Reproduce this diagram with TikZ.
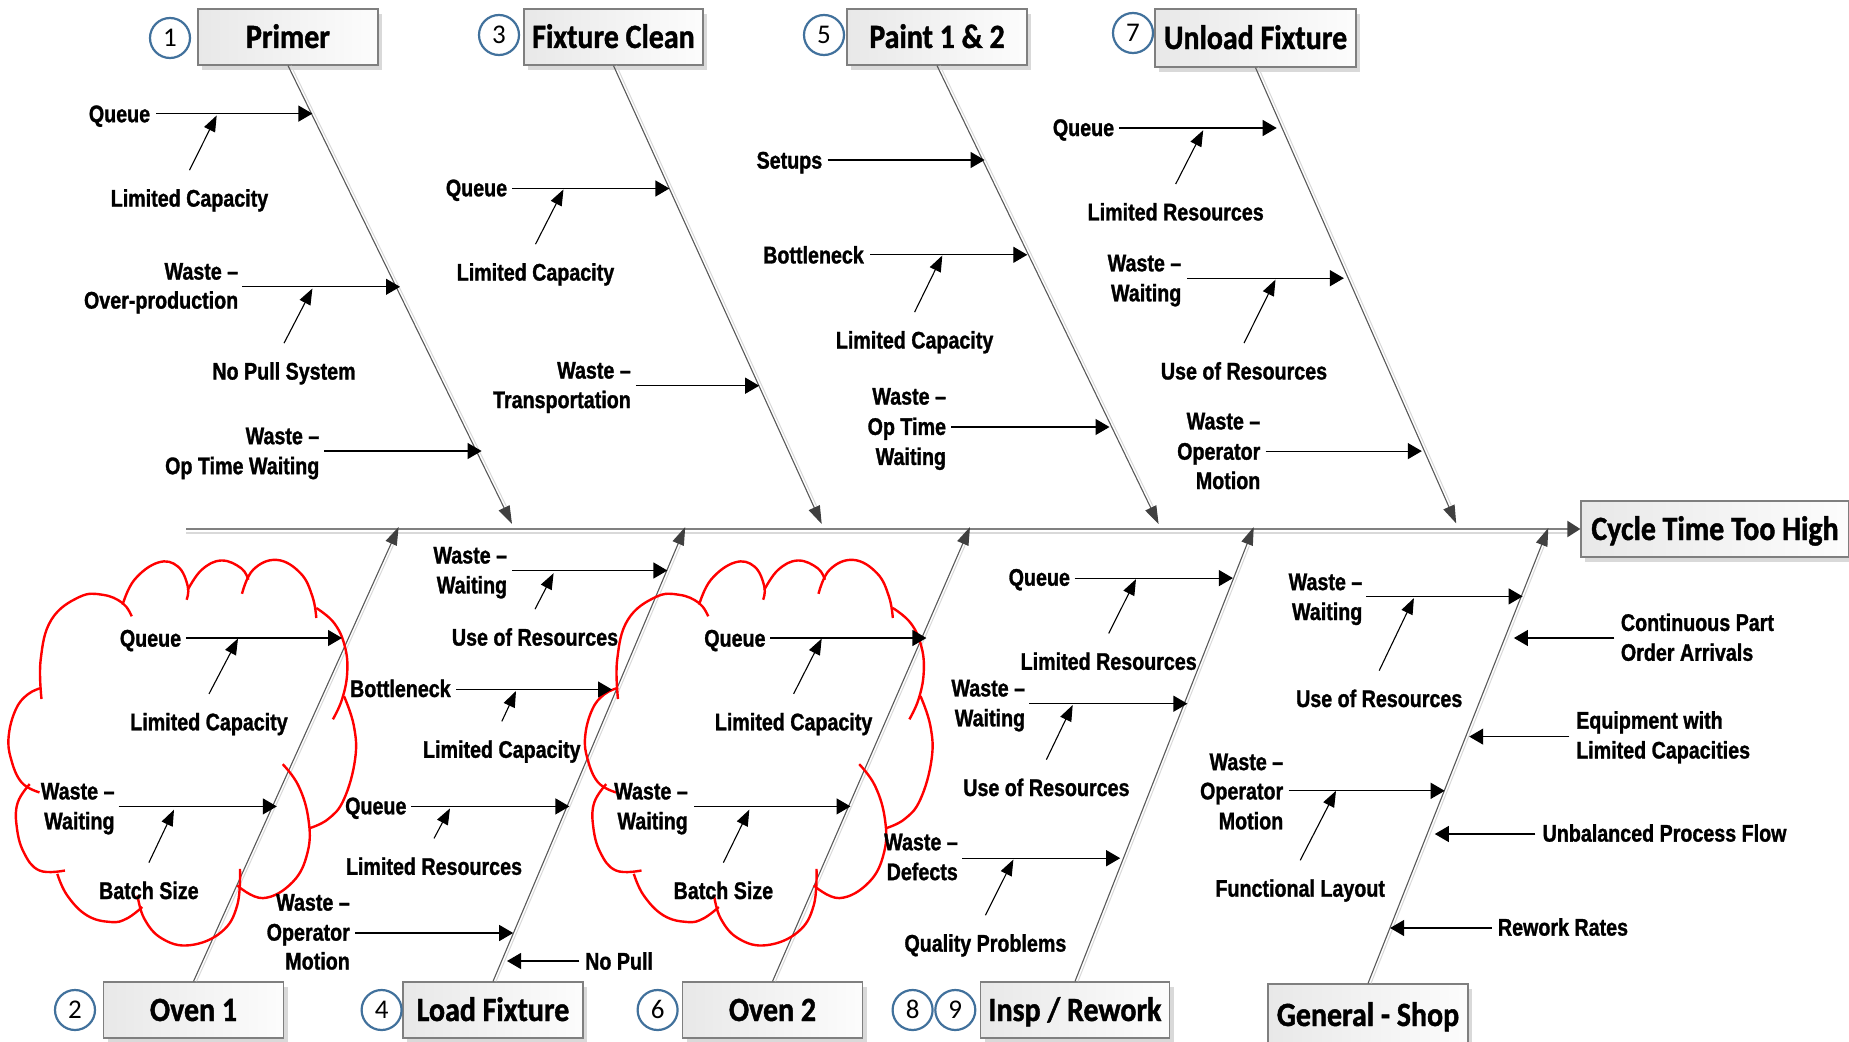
\documentclass[tikz,border=0pt]{standalone}
\usepackage{fontspec}
\newfontfamily\labfam{Liberation Sans}[FakeStretch=0.82,FakeBold=1.2]
\newfontfamily\titfam{Carlito}[FakeStretch=0.88,FakeBold=1.2]
\newfontfamily\numfam{Carlito}
\usetikzlibrary{arrows.meta,shadows}
\definecolor{circblue}{RGB}{65,113,156}
\definecolor{boxgray}{RGB}{127,127,127}
\definecolor{bonegray}{RGB}{89,89,89}
\definecolor{tipgray}{RGB}{64,64,64}
\definecolor{spinegray}{RGB}{128,128,128}
\definecolor{shadowgray}{RGB}{217,217,217}
\tikzset{
 lab/.style={font=\labfam\bfseries\fontsize{24}{28}\selectfont, inner sep=0pt, text height=17.2pt, text depth=0pt},
 tbox/.style={draw=boxgray, line width=1.3pt, left color=black!9, right color=black!1, minimum height=56pt, inner sep=0pt,
   font=\titfam\bfseries\fontsize{34}{40}\selectfont, text height=22pt, text depth=0pt,
   drop shadow={shadow xshift=4pt, shadow yshift=-5pt, fill=shadowgray, opacity=1}},
 num/.style={circle, draw=circblue, line width=2.2pt, fill=white, minimum size=40pt, inner sep=0pt,
   font=\numfam\fontsize{27}{30}\selectfont, text height=17pt, text depth=0pt},
 br/.style={draw=black, line width=1.2pt, -{Triangle[length=14pt,width=16pt]}},
 sub/.style={draw=black, line width=1.1pt, -{Triangle[length=16pt,width=12pt]}},
 bone/.style={draw=bonegray, line width=1.1pt, -{Triangle[length=18pt,width=12pt,color=tipgray]}},
 boneshadow/.style={draw=black!15, line width=1pt, shorten >=20pt},
 cloudline/.style={draw=red, line width=2.4pt},
}
\newcommand{\mycloud}[1]{%
\begin{scope}[xshift=#1]
\draw[cloudline] plot[smooth,tension=0.7] coordinates {(41.5,699) (40.7,659.5) (51.4,619.7) (79.1,597.1) (102.8,594.8) (122.6,603.1) (131.7,616.3)};
\draw[cloudline] plot[smooth,tension=0.7] coordinates {(122.6,604.7) (134.4,579.8) (158.2,562.5) (177.9,566.5) (187.8,586.4) (186.6,599.7)};
\draw[cloudline] plot[smooth,tension=0.7] coordinates {(187.8,589.8) (201.7,569.8) (221.4,560.5) (241.2,568.2) (248.3,579.8)};
\draw[cloudline] plot[smooth,tension=0.7] coordinates {(242,593.8) (253.1,569.8) (276.8,559.9) (300.5,573.2) (312.4,596.4) (316.3,618)};
\draw[cloudline] plot[smooth,tension=0.7] coordinates {(316.3,608) (334.1,623) (344.8,646.2) (347.2,672.8) (342,699.4) (332.9,719.3)};
\draw[cloudline] plot[smooth,tension=0.7] coordinates {(344,696.1) (353.9,726) (355.1,759.2) (344,799.1) (328.2,819) (309.2,828.3)};
\draw[cloudline] plot[smooth,tension=0.7] coordinates {(282.7,764.2) (298.5,785.8) (308.4,819) (307.6,852.2) (292.6,882.1) (263,898.1) (237.2,885.4)};
\draw[cloudline] plot[smooth,tension=0.7] coordinates {(240,868.8) (237.2,905.4) (221.4,932) (189.8,945.2) (162.1,938.6) (144.3,918.7) (137.6,895.4)};
\draw[cloudline] plot[smooth,tension=0.7] coordinates {(142.3,907) (126.5,918.7) (110.7,922) (87,915.4) (67.2,895.4) (57.3,873.8)};
\draw[cloudline] plot[smooth,tension=0.7] coordinates {(29.7,784.1) (17.8,802.4) (16.6,825.6) (23.7,852.2) (39.5,870.5) (65,870.5)};
\draw[cloudline] plot[smooth,tension=0.7] coordinates {(39.5,792.4) (21.7,782.5) (11.1,759.2) (8.7,736) (15.8,709.4) (27.7,694.4) (41.5,687.8)};
\end{scope}}
\begin{document}
\begin{tikzpicture}[x=1pt,y=-1pt]
\useasboundingbox (0,0) rectangle (1849,1041);
\fill[white] (0,0) rectangle (1849,1041);

% ---------- boxes ----------
\node[tbox, minimum width=180pt] (primer) at (288,37) {Primer};
\node[tbox, minimum width=179pt] (fclean) at (613.5,37) {Fixture Clean};
\node[tbox, minimum width=180pt] (paint) at (937,37) {Paint 1 \& 2};
\node[tbox, minimum width=201pt, minimum height=58pt] (unload) at (1255.5,38) {Unload Fixture};
\node[tbox, minimum width=268pt] (cycle) at (1715,529) {Cycle Time Too High};
\node[tbox, minimum width=180pt] (oven1) at (193.5,1010) {Oven 1};
\node[tbox, minimum width=180pt] (loadf) at (493,1010) {Load Fixture};
\node[tbox, minimum width=180pt] (oven2) at (772.5,1010) {Oven 2};
\node[tbox, minimum width=189pt] (insp) at (1075,1010) {Insp / Rework};
\node[tbox, minimum width=200pt, minimum height=62pt] (gshop) at (1368,1015) {General - Shop};

\node[num] (n1) at (170,38) {1};
\node[num] (n3) at (499,35) {3};
\node[num] (n5) at (824,35) {5};
\node[num] (n7) at (1133,33) {7};
\node[num] (n2) at (75,1010) {2};
\node[num] (n4) at (381.6,1010) {4};
\node[num] (n6) at (657.6,1010) {6};
\node[num] (n8) at (912.6,1010) {8};
\node[num] (n9) at (955.3,1010) {9};

% ---------- spine ----------
\coordinate (sp0) at (186,529);
\coordinate (sps0) at (186,533);
\coordinate (sps1) at (1570,533);
\draw[shadowgray, line width=2pt] (sps0) -- (sps1);
\draw[draw=spinegray, line width=2.2pt, -{Triangle[length=13pt,width=16pt,color=tipgray]}] (sp0) -- (cycle.west);

% ---------- bones ----------
\coordinate (tP) at (512,524);
\coordinate (tF) at (821.7,524);
\coordinate (tA) at (1158.6,524);
\coordinate (tU) at (1456.2,523.4);
\coordinate (tO1) at (398.6,527);
\coordinate (tL) at (685.2,527);
\coordinate (tO2) at (970,527);
\coordinate (tI) at (1253.7,527);
\coordinate (tG) at (1548.3,528);
\foreach \b/\t in {primer.south/tP, fclean.south/tF, paint.south/tA, unload.south/tU,
                   oven1.north/tO1, loadf.north/tL, oven2.north/tO2, insp.north/tI, gshop.north/tG}{
  \draw[boneshadow] ([xshift=3pt]\b) -- ([xshift=3pt]\t);
  \draw[bone] (\b) -- (\t);
}

% ---------- clouds ----------
\mycloud{0pt}
\mycloud{576.5pt}

% ---------- Primer branch ----------
\node[lab] (pq) at (119.5,113.6) {Queue};
\coordinate (pqs) at (156,113.6); \coordinate (pqt) at (312.4,113.6);
\draw[br] (pqs) -- (pqt);
\node[lab] (plc) at (189.5,198) {Limited Capacity};
\coordinate (plct) at (216.7,115.4);
\draw[sub] ([yshift=19pt]plc.north) -- (plct);
\node[lab, anchor=east] (pwa) at (238.4,271) {Waste –};
\node[lab, anchor=east] (pwb) at (238.4,300) {Over-production};
\coordinate (pws) at (242,286.8); \coordinate (pwt) at (400,286.8);
\draw[br] (pws) -- (pwt);
\node[lab] (pnp) at (284,371) {No Pull System};
\coordinate (pnpt) at (312.4,288.5);
\draw[sub] ([yshift=19pt]pnp.north) -- (pnpt);
\node[lab, anchor=east] (poa) at (319.5,435.6) {Waste –};
\node[lab, anchor=east] (pob) at (319.5,465.6) {Op Time Waiting};
\coordinate (pos) at (324,451); \coordinate (pot) at (481.6,451);
\draw[br] (pos) -- (pot);

% ---------- Fixture Clean branch ----------
\node[lab] (fq) at (476.5,187.7) {Queue};
\coordinate (fqs) at (512,188.5); \coordinate (fqt) at (669.4,188.5);
\draw[br] (fqs) -- (fqt);
\node[lab] (flc) at (535.5,272) {Limited Capacity};
\coordinate (flct) at (563.5,189.4);
\draw[sub] ([yshift=19pt]flc.north) -- (flct);
\node[lab, anchor=east] (fta) at (631,370) {Waste –};
\node[lab, anchor=east] (ftb) at (631,399.5) {Transportation};
\coordinate (fts) at (635.8,385.7); \coordinate (ftt) at (759.2,385.7);
\draw[br] (fts) -- (ftt);

% ---------- Paint branch ----------
\node[lab] (as) at (789.4,160) {Setups};
\coordinate (ass) at (827.6,160); \coordinate (ast) at (984.6,160);
\draw[br] (ass) -- (ast);
\node[lab] (ab) at (813.5,254.8) {Bottleneck};
\coordinate (abs) at (870,254.8); \coordinate (abt) at (1027.3,254.8);
\draw[br] (abs) -- (abt);
\node[lab] (alc) at (914.6,339.9) {Limited Capacity};
\coordinate (alct) at (942.3,255.5);
\draw[sub] ([yshift=19pt]alc.north) -- (alct);
\node[lab, anchor=east] (aoa) at (946.2,396) {Waste –};
\node[lab, anchor=east] (aob) at (946.2,426.3) {Op Time};
\node[lab, anchor=east] (aoc) at (946.2,456.3) {Waiting};
\coordinate (aos) at (951,427); \coordinate (aot) at (1109.5,427);
\draw[br] (aos) -- (aot);

% ---------- Unload branch ----------
\node[lab] (uq) at (1083.5,127.4) {Queue};
\coordinate (uqs) at (1119,128); \coordinate (uqt) at (1276.7,128);
\draw[br] (uqs) -- (uqt);
\node[lab] (ulr) at (1175.7,211.8) {Limited Resources};
\coordinate (ulrt) at (1203.2,130.2);
\draw[sub] ([yshift=19pt]ulr.north) -- (ulrt);
\node[lab, anchor=east] (uwa) at (1181.5,262.7) {Waste –};
\node[lab, anchor=east] (uwb) at (1181.5,292.7) {Waiting};
\coordinate (uws) at (1187.4,278.2); \coordinate (uwt) at (1343.9,278.2);
\draw[br] (uws) -- (uwt);
\node[lab] (uur) at (1244,370.9) {Use of Resources};
\coordinate (uurt) at (1275.5,279.6);
\draw[sub] ([yshift=19pt]uur.north) -- (uurt);
\node[lab, anchor=east] (uma) at (1260.5,420.8) {Waste –};
\node[lab, anchor=east] (umb) at (1260.5,451.1) {Operator};
\node[lab, anchor=east] (umc) at (1260.5,480.4) {Motion};
\coordinate (ums) at (1265.6,451.1); \coordinate (umt) at (1421.8,451.1);
\draw[br] (ums) -- (umt);

% ---------- Oven 1 branch ----------
\node[lab] (oq) at (150.5,638) {Queue};
\coordinate (oqs) at (185.8,638); \coordinate (oqt) at (342,638);
\draw[br] (oqs) -- (oqt);
\node[lab] (olc) at (209,721.7) {Limited Capacity};
\coordinate (olct) at (238,638.5);
\draw[sub] ([yshift=19pt]olc.north) -- (olct);
\node[lab, anchor=east] (owa) at (114.7,790.8) {Waste –};
\node[lab, anchor=east] (owb) at (114.7,820.7) {Waiting};
\coordinate (ows) at (118.6,806.4); \coordinate (owt) at (276.8,806.4);
\draw[br] (ows) -- (owt);
\node[lab] (obs) at (148.9,890.4) {Batch Size};
\coordinate (obst) at (174,809.7);
\draw[sub] ([yshift=19pt]obs.north) -- (obst);

% ---------- Load Fixture branch ----------
\node[lab, anchor=east] (lwa) at (507.3,554.9) {Waste –};
\node[lab, anchor=east] (lwb) at (507.3,584.8) {Waiting};
\coordinate (lws) at (512,570.5); \coordinate (lwt) at (667.4,570.5);
\draw[br] (lws) -- (lwt);
\node[lab] (lur) at (535,637) {Use of Resources};
\coordinate (lurt) at (553.6,573.2);
\draw[sub] ([yshift=19pt]lur.north) -- (lurt);
\node[lab] (lb) at (400.4,688.4) {Bottleneck};
\coordinate (lbs) at (456,689.5); \coordinate (lbt) at (612,689.5);
\draw[br] (lbs) -- (lbt);
\node[lab] (llc) at (501.8,749.2) {Limited Capacity};
\coordinate (llct) at (516,691);
\draw[sub] ([yshift=19pt]llc.north) -- (llct);
\node[lab] (lq) at (375.8,805.7) {Queue};
\coordinate (lqs) at (411.2,806.4); \coordinate (lqt) at (569.4,806.4);
\draw[br] (lqs) -- (lqt);
\node[lab] (llr) at (434,866.2) {Limited Resources};
\coordinate (llrt) at (450,808.4);
\draw[sub] ([yshift=19pt]llr.north) -- (llrt);
\node[lab, anchor=east] (lma) at (350,902) {Waste –};
\node[lab, anchor=east] (lmb) at (350,932) {Operator};
\node[lab, anchor=east] (lmc) at (350,960.9) {Motion};
\coordinate (lms) at (355,933); \coordinate (lmt) at (513.2,933);
\draw[br] (lms) -- (lmt);
\node[lab, anchor=west] (lnp) at (585,961) {No Pull};
\coordinate (lnps) at (579.3,961); \coordinate (lnpt) at (507,961);
\draw[br] (lnps) -- (lnpt);

% ---------- Oven 2 branch ----------
\node[lab] (vq) at (734.9,638) {Queue};
\coordinate (vqs) at (770.3,638); \coordinate (vqt) at (926.4,638);
\draw[br] (vqs) -- (vqt);
\node[lab] (vlc) at (793.6,721.7) {Limited Capacity};
\coordinate (vlct) at (821.7,638.6);
\draw[sub] ([yshift=19pt]vlc.north) -- (vlct);
\node[lab, anchor=east] (vwa) at (688,790.8) {Waste –};
\node[lab, anchor=east] (vwb) at (688,820.7) {Waiting};
\coordinate (vws) at (694.3,806.4); \coordinate (vwt) at (850.5,806.4);
\draw[br] (vws) -- (vwt);
\node[lab] (vbs) at (723.4,890.4) {Batch Size};
\coordinate (vbst) at (749.3,809.7);
\draw[sub] ([yshift=19pt]vbs.north) -- (vbst);

% ---------- Insp / Rework branch ----------
\node[lab] (iq) at (1039.3,577.1) {Queue};
\coordinate (iqs) at (1074.7,578.1); \coordinate (iqt) at (1232.9,578.1);
\draw[br] (iqs) -- (iqt);
\node[lab] (ilr) at (1108.7,661.2) {Limited Resources};
\coordinate (ilrt) at (1136,579.1);
\draw[sub] ([yshift=19pt]ilr.north) -- (ilrt);
\node[lab, anchor=east] (iwa) at (1025.3,687.8) {Waste –};
\node[lab, anchor=east] (iwb) at (1025.3,717.7) {Waiting};
\coordinate (iws) at (1029.3,703.7); \coordinate (iwt) at (1187.4,703.7);
\draw[br] (iws) -- (iwt);
\node[lab] (iur) at (1046.4,787.4) {Use of Resources};
\coordinate (iurt) at (1072.7,705);
\draw[sub] ([yshift=19pt]iur.north) -- (iurt);
\node[lab, anchor=east] (ida) at (958,841.6) {Waste –};
\node[lab, anchor=east] (idb) at (958,871.5) {Defects};
\coordinate (ids) at (962,858.2); \coordinate (idt) at (1120.2,858.2);
\draw[br] (ids) -- (idt);
\node[lab] (iqp) at (985.4,943) {Quality Problems};
\coordinate (iqpt) at (1013.4,859.5);
\draw[sub] ([yshift=19pt]iqp.north) -- (iqpt);

% ---------- General - Shop branch ----------
\node[lab, anchor=east] (gwa) at (1362.5,581.5) {Waste –};
\node[lab, anchor=east] (gwb) at (1362.5,611.4) {Waiting};
\coordinate (gws) at (1366.4,596.4); \coordinate (gwt) at (1522.6,596.4);
\draw[br] (gws) -- (gwt);
\node[lab] (gur) at (1379.2,698.4) {Use of Resources};
\coordinate (gurt) at (1413.9,598.1);
\draw[sub] ([yshift=19pt]gur.north) -- (gurt);
\node[lab, anchor=east] (gma) at (1283.4,761.5) {Waste –};
\node[lab, anchor=east] (gmb) at (1283.4,790.8) {Operator};
\node[lab, anchor=east] (gmc) at (1283.4,820.7) {Motion};
\coordinate (gms) at (1288.5,790.8); \coordinate (gmt) at (1444.7,790.8);
\draw[br] (gms) -- (gmt);
\node[lab] (gfl) at (1300.2,888.1) {Functional Layout};
\coordinate (gflt) at (1336,790.8);
\draw[sub] ([yshift=19pt]gfl.north) -- (gflt);

\node[lab, anchor=west] (gca) at (1620.7,622.3) {Continuous Part};
\node[lab, anchor=west] (gcb) at (1620.7,652.2) {Order Arrivals};
\coordinate (gcs) at (1614.3,638); \coordinate (gct) at (1513.9,638);
\draw[br] (gcs) -- (gct);
\node[lab, anchor=west] (gea) at (1576,720) {Equipment with};
\node[lab, anchor=west] (geb) at (1576,749.9) {Limited Capacities};
\coordinate (ges) at (1569.3,736.6); \coordinate (get) at (1469.2,736.6);
\draw[br] (ges) -- (get);
\node[lab, anchor=west] (gu) at (1542.4,833) {Unbalanced Process Flow};
\coordinate (gus) at (1535.3,834); \coordinate (gut) at (1434.8,834);
\draw[br] (gus) -- (gut);
\node[lab, anchor=west] (grr) at (1497.7,927) {Rework Rates};
\coordinate (grs) at (1491.8,928); \coordinate (grt) at (1390.1,928);
\draw[br] (grs) -- (grt);
\end{tikzpicture}
\end{document}
